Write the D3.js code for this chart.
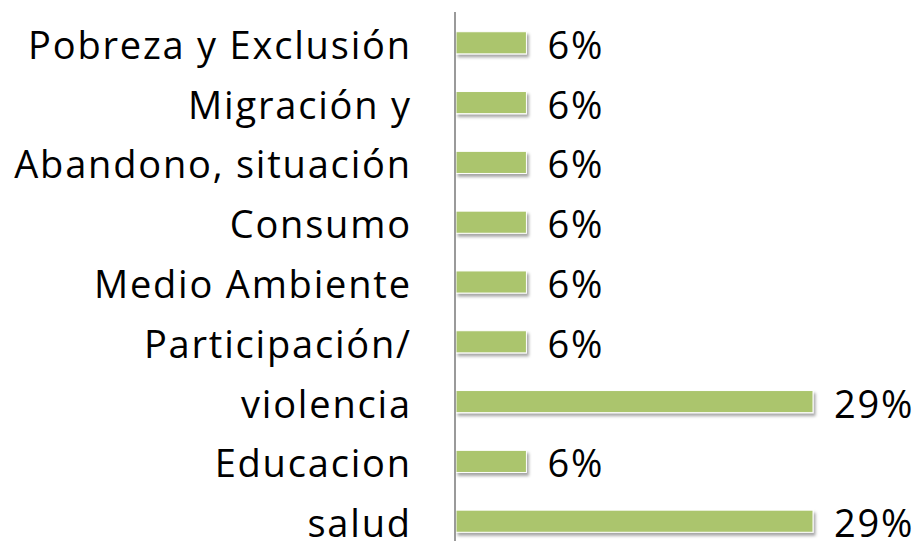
<!DOCTYPE html>
<html lang="es">
<head>
<meta charset="UTF-8">
<title>Temas</title>
<script src="https://d3js.org/d3.v7.min.js"></script>
<style>
    body { margin: 0; background: #fff; }
    svg { display: block; }
    text { font-family: "Open Sans", sans-serif; fill: #000; }
</style>
</head>
<body>
<div id="chart"></div>
<script>
    // categories, top to bottom
    const categories = ["Pobreza y Exclusión", "Migración y", "Abandono, situación", "Consumo",
        "Medio Ambiente", "Participación/", "violencia", "Educacion", "salud"];
    // bar lengths (percent)
    const values = [5.8, 5.8, 5.8, 5.8, 5.8, 5.8, 29.4, 5.8, 29.4];
    const valueLabels = ["6%", "6%", "6%", "6%", "6%", "6%", "29%", "6%", "29%"];

    const width = 918, height = 541;
    const x0 = 456;
    const fs = 38, ls = 1.8;

    const svg = d3.select("#chart").append("svg")
        .attr("width", width).attr("height", height);

    const defs = svg.append("defs");
    const f = defs.append("filter").attr("id", "shadow")
        .attr("x", "-5%").attr("y", "-30%").attr("width", "115%").attr("height", "180%");
    f.append("feDropShadow").attr("dx", 2).attr("dy", 3).attr("stdDeviation", 1.6)
        .attr("flood-color", "#000").attr("flood-opacity", 0.35);

    const x = d3.scaleLinear().domain([0, 29.4]).range([x0, 813]);
    const y = d3.scaleBand().domain(categories).range([12, 552]).paddingInner(0.63).paddingOuter(0.33);

    const rows = categories.map((c, i) => ({ c, v: values[i], lab: valueLabels[i] }));

    svg.selectAll("rect.bar")
        .data(rows)
        .enter().append("rect")
        .attr("class", "bar")
        .attr("x", x(0))
        .attr("y", d => y(d.c))
        .attr("width", d => x(d.v) - x(0))
        .attr("height", y.bandwidth())
        .attr("fill", "#abc56d")
        .attr("stroke", "#fff")
        .attr("stroke-width", 1)
        .attr("filter", "url(#shadow)");

    // axis line
    svg.append("line")
        .attr("x1", x0 - 1).attr("x2", x0 - 1)
        .attr("y1", 12).attr("y2", height)
        .attr("stroke", "#9a9a9a").attr("stroke-width", 2);

    // category labels
    svg.selectAll("text.cat")
        .data(rows)
        .enter().append("text")
        .attr("class", "cat")
        .attr("x", 410 + ls)
        .attr("y", d => y(d.c) + y.bandwidth() / 2)
        .attr("dy", "0.42em")
        .attr("text-anchor", "end")
        .attr("font-size", fs)
        .attr("letter-spacing", ls)
        .text(d => d.c);

    // value labels
    svg.selectAll("text.val")
        .data(rows)
        .enter().append("text")
        .attr("class", "val")
        .attr("x", d => x(d.v) + 21)
        .attr("y", d => y(d.c) + y.bandwidth() / 2)
        .attr("dy", "0.42em")
        .attr("font-size", fs)
        .attr("letter-spacing", ls)
        .text(d => d.lab);
</script>
</body>
</html>
